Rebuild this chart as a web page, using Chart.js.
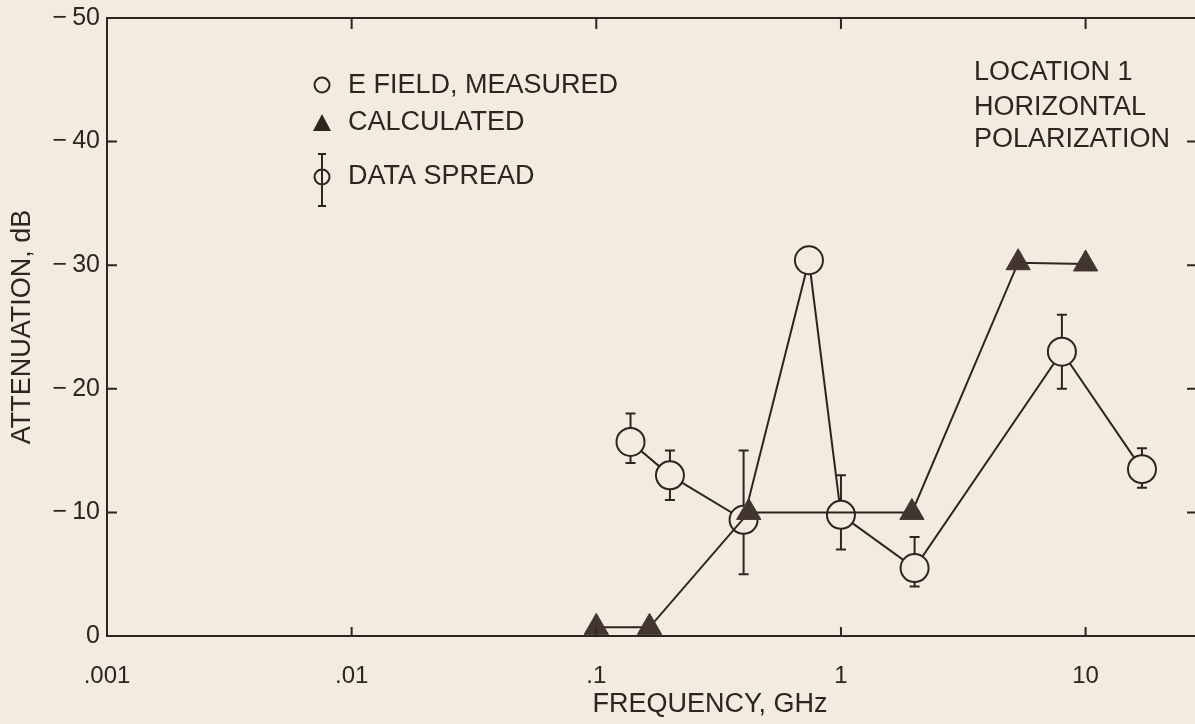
<!DOCTYPE html>
<html>
<head>
<meta charset="utf-8">
<script src="https://cdn.jsdelivr.net/npm/chart.js@4.4.0/dist/chart.umd.min.js"></script>
<style>
  html, body { margin: 0; padding: 0; background: #f2ebdf; overflow: hidden; }
  #wrap { width: 1195px; height: 724px; }
</style>
</head>
<body>
<div id="wrap"><canvas id="atenuacion" width="1195" height="724"></canvas></div>
<script>
// Valores (frecuencia en GHz, atenuacion en dB)
var medidoFrec = [0.138, 0.2, 0.4, 0.74, 1.0, 2.0, 8.0, 17.0];
var medidoDb = [-15.7, -13, -9.4, -30.4, -9.8, -5.5, -23, -13.5];
var spreadAlto = [-18, -15, -15, null, -13, -8, -26, -15.2];
var spreadBajo = [-14, -11, -5, null, -7, -4, -20, -12];

var calcFrec = [0.1, 0.165, 0.42, 1.95, 5.3, 10];
var calcDb = [-0.7, -0.7, -10, -10, -30.2, -30.1];

var xTicks = [0.001, 0.01, 0.1, 1, 10];
var xTickLabels = [".001", ".01", ".1", "1", "10"];
var yTicks = [0, -10, -20, -30, -40, -50];
var yTickLabels = ["0", "\u2212\u200910", "\u2212\u200920", "\u2212\u200930", "\u2212\u200940", "\u2212\u200950"];

var tinta = "#2e2420";
var fondo = "#f2ebdf";
var fuente = "'Liberation Sans', Arial, sans-serif";

function toPoints(xs, ys) {
  return xs.map(function (f, i) { return { x: f, y: ys[i] }; });
}

// Barras de dispersion, marco superior, marcas internas, leyenda y textos
var extras = {
  id: "extras",
  beforeDatasetsDraw: function (chart) {
    var ctx = chart.ctx, sx = chart.scales.x, sy = chart.scales.y;
    ctx.save();
    ctx.strokeStyle = tinta;
    ctx.lineWidth = 2;
    medidoFrec.forEach(function (f, i) {
      if (spreadAlto[i] == null) return;
      var px = sx.getPixelForValue(f);
      var y1 = sy.getPixelForValue(spreadAlto[i]);
      var y2 = sy.getPixelForValue(spreadBajo[i]);
      ctx.beginPath();
      ctx.moveTo(px, y1); ctx.lineTo(px, y2);
      ctx.moveTo(px - 5, y1); ctx.lineTo(px + 5, y1);
      ctx.moveTo(px - 5, y2); ctx.lineTo(px + 5, y2);
      ctx.stroke();
    });
    ctx.restore();
  },
  afterDraw: function (chart) {
    var ctx = chart.ctx, a = chart.chartArea, sx = chart.scales.x, sy = chart.scales.y;
    ctx.save();
    ctx.strokeStyle = tinta;
    ctx.fillStyle = tinta;
    ctx.lineWidth = 2;
    // marco superior
    ctx.beginPath();
    ctx.moveTo(a.left, a.top); ctx.lineTo(a.right, a.top);
    ctx.stroke();
    // marcas hacia dentro
    ctx.beginPath();
    yTicks.forEach(function (v) {
      if (v === 0 || v === -50) return;
      var py = sy.getPixelForValue(v);
      ctx.moveTo(a.left, py); ctx.lineTo(a.left + 10, py);
      ctx.moveTo(a.right - 8, py); ctx.lineTo(a.right, py);
    });
    xTicks.forEach(function (v, i) {
      if (i === 0) return;
      var px = sx.getPixelForValue(v);
      ctx.moveTo(px, a.top); ctx.lineTo(px, a.top + 11);
      ctx.moveTo(px, a.bottom); ctx.lineTo(px, a.bottom - 9);
    });
    ctx.stroke();

    // leyenda
    ctx.lineWidth = 2;
    ctx.beginPath();
    ctx.arc(322, 85, 7.5, 0, Math.PI * 2);
    ctx.stroke();
    ctx.beginPath();
    ctx.moveTo(322, 114); ctx.lineTo(331, 131); ctx.lineTo(313, 131); ctx.closePath();
    ctx.fill();
    ctx.beginPath();
    ctx.arc(322, 177, 7.5, 0, Math.PI * 2);
    ctx.moveTo(322, 154); ctx.lineTo(322, 206);
    ctx.moveTo(318, 154); ctx.lineTo(326, 154);
    ctx.moveTo(318, 206); ctx.lineTo(326, 206);
    ctx.stroke();

    ctx.font = "27px " + fuente;
    ctx.textBaseline = "middle";
    ctx.textAlign = "left";
    ctx.fillText("E FIELD, MEASURED", 348, 86);
    ctx.fillText("CALCULATED", 348, 123);
    ctx.fillText("DATA SPREAD", 348, 177);
    ctx.fillText("LOCATION 1", 974, 73);
    ctx.fillText("HORIZONTAL", 974, 108);
    ctx.fillText("POLARIZATION", 974, 140);

    ctx.textAlign = "center";
    ctx.fillText("FREQUENCY, GHz", 710, 705);
    ctx.restore();
  }
};

var grafico = new Chart(document.getElementById("atenuacion"), {
  type: "line",
  data: {
    datasets: [
      {
        label: "CALCULATED",
        data: toPoints(calcFrec, calcDb),
        order: 0,
        borderColor: tinta,
        borderWidth: 2,
        pointStyle: "triangle",
        pointRadius: 14,
        pointBackgroundColor: "#433632",
        pointBorderColor: "#433632",
        pointBorderWidth: 1,
        tension: 0,
        clip: false
      },
      {
        label: "E FIELD, MEASURED",
        data: toPoints(medidoFrec, medidoDb),
        order: 1,
        borderColor: tinta,
        borderWidth: 2,
        pointStyle: "circle",
        pointRadius: 14,
        pointBackgroundColor: fondo,
        pointBorderColor: tinta,
        pointBorderWidth: 2,
        tension: 0,
        clip: false
      }
    ]
  },
  options: {
    responsive: false,
    animation: false,
    events: [],
    layout: { autoPadding: false, padding: { top: 18, right: 0, left: 0, bottom: 0 } },
    plugins: { legend: { display: false }, tooltip: { enabled: false } },
    scales: {
      x: {
        type: "logarithmic",
        min: 0.001,
        max: 28,
        afterBuildTicks: function (scale) {
          scale.ticks = xTicks.map(function (v) { return { value: v }; });
        },
        afterFit: function (scale) {
          scale.height = 88;
          scale.paddingLeft = 0;
          scale.paddingRight = 0;
        },
        grid: { display: false, drawTicks: false },
        border: { display: true, color: tinta, width: 2 },
        ticks: {
          autoSkip: false,
          maxRotation: 0,
          padding: 26,
          color: tinta,
          font: { family: fuente, size: 24 },
          callback: function (v) {
            var i = xTicks.indexOf(v);
            return i >= 0 ? xTickLabels[i] : "";
          }
        }
      },
      y: {
        min: -50,
        max: 0,
        reverse: true,
        afterBuildTicks: function (scale) {
          scale.ticks = yTicks.map(function (v) { return { value: v }; });
        },
        afterFit: function (scale) {
          scale.width = 107;
          scale.paddingTop = 0;
          scale.paddingBottom = 0;
        },
        grid: { display: false, drawTicks: false },
        border: { display: true, color: tinta, width: 2 },
        title: {
          display: true,
          text: "ATTENUATION, dB",
          color: tinta,
          font: { family: fuente, size: 27 },
          padding: { top: 6, bottom: 0 }
        },
        ticks: {
          padding: 7,
          color: tinta,
          font: { family: fuente, size: 25 },
          callback: function (v) {
            var i = yTicks.indexOf(v);
            return i >= 0 ? yTickLabels[i] : "";
          }
        }
      }
    }
  },
  plugins: [extras]
});
</script>
</body>
</html>
